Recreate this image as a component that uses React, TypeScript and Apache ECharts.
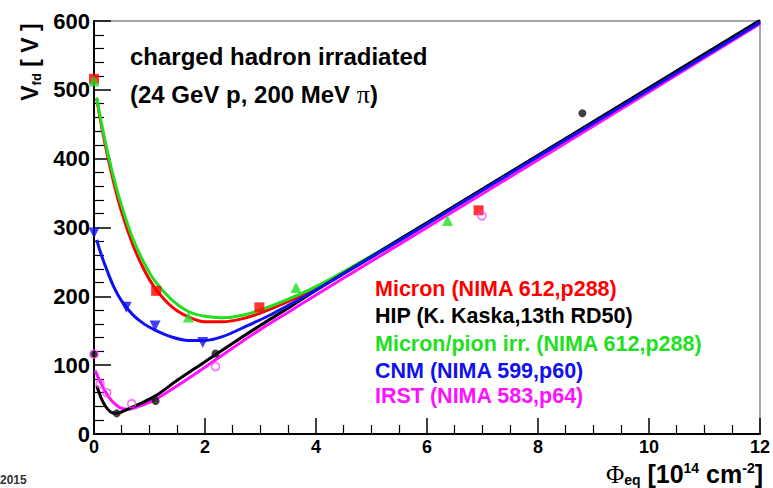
import React, { useEffect, useRef } from "react";
import * as echarts from "echarts";

const FONT = "'Liberation Sans', Arial, Helvetica, sans-serif";
const SERIF = "'Liberation Serif', 'DejaVu Serif', serif";

// Axis ranges
const X_MIN = 0, X_MAX = 12, X_STEP = 2;
const Y_MIN = 0, Y_MAX = 600, Y_STEP = 100;

// Fitted curves [fluence, V_fd]
const micronFit: [number, number][] = [[0.05,487],[0.1,463],[0.2,421],[0.35,367],[0.5,322],[0.7,275],[0.9,239],[1.1,212],[1.4,185],[1.7,170],[2.0,163],[2.3,163],[2.7,168],[3.2,182],[4,212],[5,257],[6,306],[8,404],[10,501],[12,599]];
const pionFit: [number, number][] = [[0.05,489],[0.1,466],[0.2,426],[0.35,374],[0.5,331],[0.7,284],[0.9,249],[1.1,222],[1.4,195],[1.7,178],[2.0,171],[2.3,169],[2.7,173],[3.2,186],[4,214],[5,259],[6,307],[8,404],[10,501],[12,599]];
const cnmFit: [number, number][] = [[0.05,282],[0.1,268],[0.2,245],[0.35,215],[0.5,193],[0.7,173],[0.9,160],[1.1,151],[1.4,141],[1.7,136],[2.0,136],[2.3,141],[2.7,155],[3.2,174],[4,209],[5,257],[6,305],[8,403],[10,500],[12,598]];
const hipFit: [number, number][] = [[0.05,70],[0.12,54],[0.2,41],[0.3,32],[0.4,30],[0.55,34],[0.8,43],[1.1,55],[1.5,78],[2.0,105],[2.5,132],[3.0,158],[3.5,183],[4,209],[5,258],[6,307],[8,405],[10,503],[12,601]];
const irstFit: [number, number][] = [[0.02,92],[0.1,78],[0.2,62],[0.3,50],[0.45,39],[0.6,36],[0.8,40],[1.1,50],[1.5,70],[2.0,97],[2.5,125],[3.0,152],[3.5,177],[4,202],[5,251],[6,300],[8,398],[10,497],[12,596]];

// Measured points
const micronPts: [number, number][] = [[0,516],[1.12,208],[2.98,184],[6.93,325]];
const pionPts: [number, number][] = [[0,513],[1.7,170],[3.64,213],[6.37,310]];
const cnmPts: [number, number][] = [[0,292],[0.58,184],[1.1,157],[1.96,133]];
const hipPts: [number, number][] = [[0,116],[0.41,30],[1.11,48],[2.19,117],[8.8,466]];
const irstPts: [number, number][] = [[0,116],[0.11,73],[0.23,60],[0.68,44],[2.19,98],[6.99,317]];

const legendLabels = [
  "Micron (NIMA 612,p288)",
  "HIP (K. Kaska,13th RD50)",
  "Micron/pion irr. (NIMA 612,p288)",
  "CNM (NIMA 599,p60)",
  "IRST (NIMA 583,p64)",
];
const legendColors = ["#ff0000", "#000000", "#1ee01e", "#1010f0", "#ff10ff"];

const RED = "#ff0000", BLACK = "#000000", GREEN = "#1ee01e", BLUE = "#1010f0", MAGENTA = "#ff10ff";

function lineSeries(data: [number, number][], color: string) {
  return {
    type: "line", data, smooth: 0.35, showSymbol: false, symbol: "none",
    lineStyle: { color, width: 3 }, z: 2, silent: true,
  };
}

function scatterSeries(data: [number, number][], color: string, symbol: string, size: number, extra: any = {}) {
  return {
    type: "scatter", data, symbol, symbolSize: size, clip: false, z: 5,
    itemStyle: { color },
    symbolRotate: extra.rotate || 0,
  };
}

export default function App() {
  const ref = useRef<HTMLDivElement>(null);
  useEffect(() => {
    if (!ref.current) return;
    const chart = echarts.init(ref.current, null, { renderer: "svg" });
    const legendGraphics = legendLabels.map((t, i) => ({
      type: "text", left: 375, top: [278, 305, 333, 360, 385][i],
      style: { text: t, fill: legendColors[i], font: `bold 21.5px ${FONT}` },
    }));
    chart.setOption({
      animation: false,
      backgroundColor: "#ffffff",
      grid: { left: 94, right: 12, top: 21, bottom: 54, show: true, borderColor: "#8a8a8a", borderWidth: 1.5, backgroundColor: "transparent" },
      xAxis: {
        type: "value", min: X_MIN, max: X_MAX, interval: X_STEP,
        axisLine: { show: true, onZero: false, lineStyle: { color: "#000", width: 2 } },
        axisTick: { show: true, inside: true, length: 16, lineStyle: { color: "#000", width: 1.5 } },
        minorTick: { show: true, splitNumber: 4, length: 9, lineStyle: { color: "#000", width: 1.2 } },
        splitLine: { show: false },
        axisLabel: { margin: 4, color: "#000", fontFamily: FONT, fontWeight: "bold", fontSize: 18 },
      },
      yAxis: {
        type: "value", min: Y_MIN, max: Y_MAX, interval: Y_STEP,
        axisLine: { show: true, onZero: false, lineStyle: { color: "#000", width: 2 } },
        axisTick: { show: true, inside: true, length: 17, lineStyle: { color: "#000", width: 1.5 } },
        minorTick: { show: true, splitNumber: 5, length: 10, lineStyle: { color: "#000", width: 1.2 } },
        splitLine: { show: false },
        axisLabel: { margin: 4, color: "#000", fontFamily: FONT, fontWeight: "bold", fontSize: 22 },
      },
      series: [
        lineSeries(micronFit, RED),
        lineSeries(pionFit, GREEN),
        lineSeries(irstFit, MAGENTA),
        lineSeries(hipFit, BLACK),
        lineSeries(cnmFit, BLUE),
        scatterSeries(micronPts, RED, "rect", 10),
        scatterSeries(pionPts, GREEN, "triangle", 11),
        scatterSeries(cnmPts, BLUE, "triangle", 11, { rotate: 180 }),
        scatterSeries(hipPts, "#111", "circle", 8),
        {
          type: "scatter", data: irstPts, symbol: "circle", symbolSize: 8, clip: false, z: 6,
          itemStyle: { color: "rgba(255,255,255,0)", borderColor: "#ff40ff", borderWidth: 1.5 },
        },
      ],
      graphic: [
        { type: "text", left: 130, top: 44, style: { text: "charged hadron irradiated", fill: "#000", font: `bold 24px ${FONT}` } },
        {
          type: "text", left: 130, top: 81,
          style: {
            text: "{a|(24 GeV p, 200 MeV }{p|π}{a|)}",
            rich: {
              a: { fill: "#000", fontFamily: FONT, fontWeight: "bold", fontSize: 24, lineHeight: 28 },
              p: { fill: "#000", fontFamily: SERIF, fontWeight: "normal", fontSize: 26, lineHeight: 28 },
            },
          },
        },
        ...legendGraphics,
        {
          type: "text", x: 30, y: 62, rotation: Math.PI / 2,
          style: {
            text: "{v|V}{s|fd}{v| [ V ]}", align: "center", verticalAlign: "middle",
            rich: {
              v: { fill: "#000", fontFamily: FONT, fontWeight: "bold", fontSize: 23, lineHeight: 26 },
              s: { fill: "#000", fontFamily: FONT, fontWeight: "bold", fontSize: 13, lineHeight: 14, verticalAlign: "bottom" },
            },
          },
        },
        {
          type: "text", x: 763, y: 474,
          style: {
            text: "{p|Φ}{s|eq}{n| [10}{u|14}{n| cm}{u|-2}{n|]}", align: "right", verticalAlign: "middle",
            rich: {
              p: { fill: "#000", fontFamily: SERIF, fontSize: 25, lineHeight: 26 },
              n: { fill: "#000", fontFamily: FONT, fontWeight: "bold", fontSize: 25, lineHeight: 26 },
              s: { fill: "#000", fontFamily: FONT, fontWeight: "bold", fontSize: 14, lineHeight: 15, verticalAlign: "bottom" },
              u: { fill: "#000", fontFamily: FONT, fontWeight: "bold", fontSize: 14, lineHeight: 15, verticalAlign: "top" },
            },
          },
        },
        { type: "text", left: 0, top: 474, style: { text: "2015", fill: "#333", font: `bold 12px ${FONT}` } },
      ],
    });
    return () => chart.dispose();
  }, []);
  return <div ref={ref} style={{ position: "absolute", left: 0, top: 0, width: 773, height: 488 }} />;
}
